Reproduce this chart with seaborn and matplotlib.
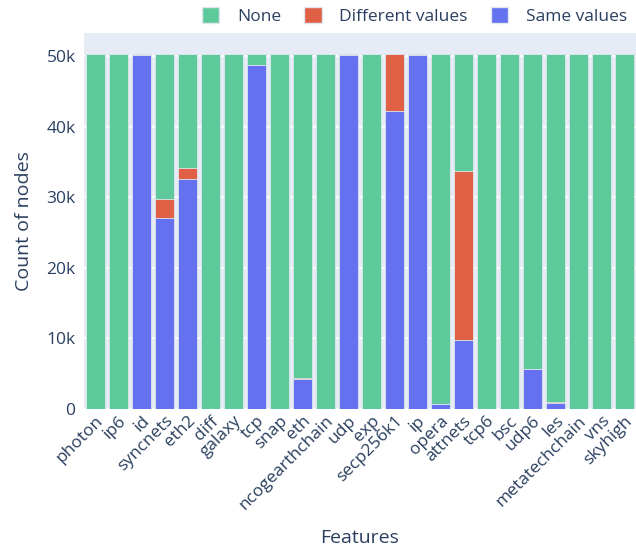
import numpy as np
import pandas as pd
import matplotlib
matplotlib.use("Agg")
import matplotlib.pyplot as plt
import seaborn as sns
from matplotlib.patches import Patch

features = ["photon", "ip6", "id", "syncnets", "eth2", "diff", "galaxy", "tcp",
            "snap", "eth", "ncogearthchain", "udp", "exp", "secp256k1", "ip",
            "opera", "attnets", "tcp6", "bsc", "udp6", "les", "metatechchain",
            "vns", "skyhigh"]
same_values = [0, 0, 50200, 27100, 32600, 0, 0, 48700, 0, 4200, 0, 50150, 0,
               42200, 50150, 650, 9700, 0, 0, 5600, 800, 0, 0, 0]
different_values = [0, 0, 0, 2600, 1500, 0, 0, 0, 0, 200, 0, 0, 0, 8100, 0,
                     50, 24100, 0, 0, 100, 100, 0, 0, 0]
total_nodes = 50300

GREEN = "#5eca9c"
RED = "#e06046"
BLUE = "#6472f2"
TEXT = "#2a3f5f"

df = pd.DataFrame({"feature": features, "same": same_values, "diff": different_values})
df["none"] = total_nodes - df["same"] - df["diff"]
df["total"] = df["same"] + df["diff"] + df["none"]
df["same_diff"] = df["same"] + df["diff"]

sns.set_style("white")
plt.rcParams["font.family"] = ["Open Sans", "DejaVu Sans"]

fig = plt.figure(figsize=(6.36, 5.51), dpi=100)
ax = fig.add_axes([0.132, 0.258, 0.868, 0.682])
ax.set_facecolor("#e5ecf6")

edge = dict(edgecolor="#dfe6ee", linewidth=0.6)
sns.barplot(data=df, x="feature", y="total", color=GREEN, saturation=1, width=0.82, ax=ax, **edge)
sns.barplot(data=df, x="feature", y="same_diff", color=RED, saturation=1, width=0.82, ax=ax, **edge)
sns.barplot(data=df, x="feature", y="same", color=BLUE, saturation=1, width=0.82, ax=ax, **edge)

ax.set_xlim(-0.5, len(features) - 0.5)
ax.set_ylim(0, 53300)
ax.set_yticks([0, 10000, 20000, 30000, 40000, 50000])
ax.set_yticklabels(["0", "10k", "20k", "30k", "40k", "50k"])
ax.yaxis.grid(True, color="white", linewidth=1.2)
ax.set_axisbelow(True)
for s in ax.spines.values():
    s.set_visible(False)
ax.tick_params(axis="both", length=0, colors=TEXT, labelsize=12.5)
ax.tick_params(axis="y", pad=6)
ax.tick_params(axis="x", pad=3)
plt.setp(ax.get_xticklabels(), rotation=45, ha="right", rotation_mode="anchor")
ax.set_xlabel("Features", color=TEXT, fontsize=14, va="center")
ax.xaxis.set_label_coords(0.5, -0.343)
ax.set_ylabel("Count of nodes", color=TEXT, fontsize=14, labelpad=10)

handles = [Patch(facecolor=GREEN, edgecolor="#dfe6ee"),
           Patch(facecolor=RED, edgecolor="#dfe6ee"),
           Patch(facecolor=BLUE, edgecolor="#dfe6ee")]
fig.legend(handles, ["None", "Different values", "Same values"], ncol=3,
           loc="upper right", bbox_to_anchor=(1.01, 1.015), frameon=False,
           fontsize=12.5, labelcolor=TEXT, handlelength=1.0, handleheight=1.0,
           columnspacing=1.35, handletextpad=1.0)

fig.savefig("out.png", dpi=100)
plt.close(fig)
